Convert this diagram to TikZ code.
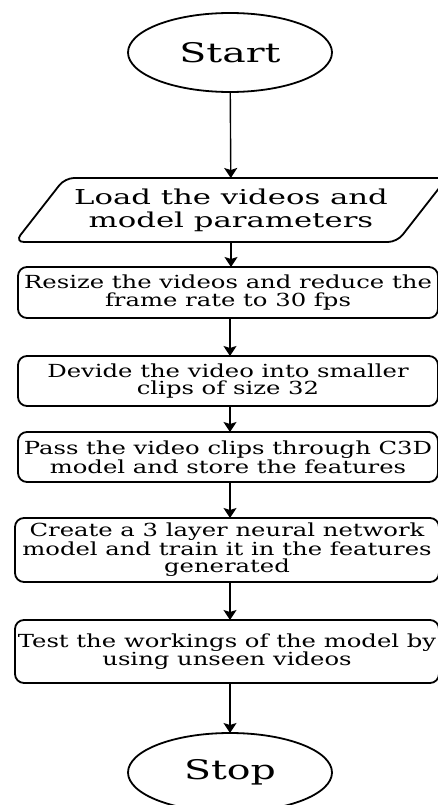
\documentclass[tikz,border=0pt]{standalone}
\usepackage{fontspec}
\setmainfont[FakeStretch=1.35]{DejaVu Serif}
\newfontfamily\loadfont[FakeStretch=1.5]{DejaVu Serif}
\newfontfamily\termfont[FakeStretch=1.46]{DejaVu Serif}
\usetikzlibrary{shapes.geometric,arrows.meta}
\begin{document}
\begin{tikzpicture}[x=1pt,y=1pt,
  every node/.style={inner sep=0pt, outer sep=0pt, align=center},
  term/.style={ellipse, draw, line width=1.8pt, minimum width=204pt, minimum height=79pt, font=\termfont\fontsize{27}{29}\selectfont},
  procbox/.style={rectangle, draw, rounded corners=9pt, line width=1.8pt, minimum width=420pt, font=\fontsize{18}{17.3}\selectfont},
  flow/.style={line width=1.4pt, -{Stealth[length=10pt,width=13pt,inset=2pt]}}]
\useasboundingbox (0,0) rectangle (438,-805);
\node[term] (start) at (230,-52.5) {Start};
\node[minimum width=382pt, minimum height=64pt, font=\loadfont\fontsize{20.5}{23}\selectfont] (load) at (231,-210) {Load the videos and\\model parameters};
\draw[line width=1.8pt, rounded corners=9pt] ([xshift=25pt]load.north west) -- ([xshift=25pt]load.north east) -- ([xshift=-25pt]load.south east) -- ([xshift=-25pt]load.south west) -- cycle;
\node[procbox, minimum height=51pt] (b1) at (228,-292.5) {Resize the videos and reduce the\\frame rate to 30 fps};
\node[procbox, minimum height=50pt] (b2) at (228,-381) {Devide the video into smaller\\clips of size 32};
\node[procbox, minimum height=50pt] (b3) at (228,-457) {Pass the video clips through C3D\\model and store the features};
\node[procbox, minimum height=64pt, minimum width=424pt] (b4) at (227,-550) {Create a 3 layer neural network\\model and train it in the features\\generated};
\node[procbox, minimum height=63pt, minimum width=424pt] (b5) at (227,-651.5) {Test the workings of the model by\\using unseen videos};
\node[term] (stop) at (230,-772.5) {Stop};
\draw[flow] (start) -- (load);
\draw[flow] (load.south) -- (b1.north -| load.south);
\draw[flow] (b1.south -| start) -- (b2.north -| start);
\draw[flow] (b2.south -| start) -- (b3.north -| start);
\draw[flow] (b3.south -| start) -- (b4.north -| start);
\draw[flow] (b4.south -| start) -- (b5.north -| start);
\draw[flow] (b5.south -| start) -- (stop);
\end{tikzpicture}
\end{document}
